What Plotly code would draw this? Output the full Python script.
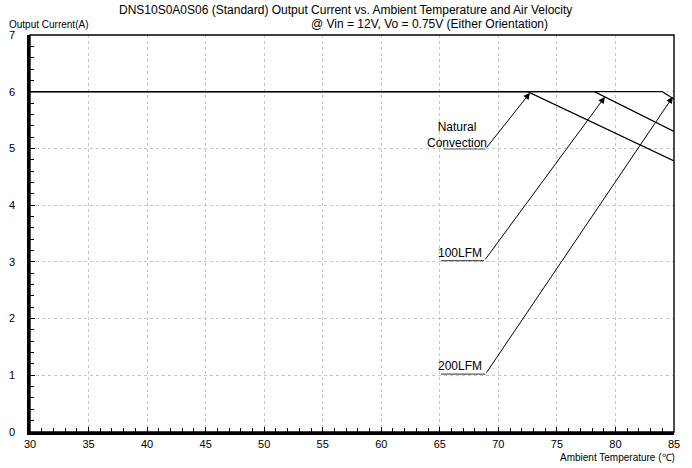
import plotly.graph_objects as go

# ambient temperature (C) vs output current (A)
natural_temp = [30, 72.5, 85]
natural_current = [6.0, 6.0, 4.78]
lfm100_temp = [30, 78.2, 85]
lfm100_current = [6.0, 6.0, 5.3]
lfm200_temp = [30, 84.0, 85]
lfm200_current = [6.0, 6.0, 5.87]

x_ticks = list(range(30, 90, 5))
y_ticks = list(range(0, 8))

font = dict(family="Liberation Sans, Arial, sans-serif", size=11, color="black")

fig = go.Figure()
for t, c, name in [(natural_temp, natural_current, "Natural Convection"),
                   (lfm100_temp, lfm100_current, "100LFM"),
                   (lfm200_temp, lfm200_current, "200LFM")]:
    fig.add_trace(go.Scatter(x=t, y=c, mode="lines", name=name,
                             line=dict(color="black", width=1.2), showlegend=False))

# label callouts: text, underline, arrow to the curve knee
callouts = [
    ("Natural<br>Convection", 65.3, 68.9, 4.99, 72.7, 5.98, 66.5, 5.24, "middle"),
    ("100LFM", 65.1, 68.8, 3.02, 79.1, 5.91, 66.7, 3.0, "bottom"),
    ("200LFM", 65.1, 68.9, 1.02, 84.9, 5.91, 66.75, 1.0, "bottom"),
]
for label, x0, x1, yu, xt, yt, xtext, ytext, anchor in callouts:
    fig.add_shape(type="line", x0=x0, x1=x1, y0=yu, y1=yu, xref="x", yref="y",
                  line=dict(color="#555555", width=1.2))
    fig.add_annotation(x=xt, y=yt, ax=x1, ay=yu, xref="x", yref="y", axref="x", ayref="y",
                       text="", showarrow=True, arrowhead=2, arrowsize=1.3,
                       arrowwidth=1, arrowcolor="black", standoff=0)
    fig.add_annotation(x=xtext, y=ytext, xref="x", yref="y", text=label,
                       showarrow=False, font=dict(family=font["family"], size=12, color="black"),
                       yanchor=anchor)

# frame on top/right
fig.add_shape(type="rect", x0=0, x1=1, y0=0, y1=1, xref="paper", yref="paper",
              line=dict(color="black", width=1.4))

fig.add_annotation(x=0.49, y=1, xref="paper", yref="paper", yshift=25, xanchor="center",
                   yanchor="middle",
                   text="DNS10S0A0S06 (Standard) Output Current vs. Ambient Temperature and Air Velocity",
                   showarrow=False, font=dict(family=font["family"], size=12, color="black"))
fig.add_annotation(x=0.62, y=1, xref="paper", yref="paper", yshift=11, xanchor="center",
                   yanchor="middle", text="@ Vin = 12V, Vo = 0.75V (Either Orientation)",
                   showarrow=False, font=dict(family=font["family"], size=12, color="black"))
fig.add_annotation(x=-0.036, y=1, xref="paper", yref="paper", yshift=11, xanchor="left",
                   yanchor="middle", text="Output Current(A)", showarrow=False,
                   font=dict(family=font["family"], size=10, color="black"))
fig.add_annotation(x=1.004, y=0, xref="paper", yref="paper", yshift=-25, xanchor="right",
                   yanchor="middle", text="Ambient Temperature (℃)", showarrow=False,
                   font=dict(family=font["family"], size=10, color="black"))

fig.update_xaxes(range=[30, 85], tickvals=x_ticks, showline=True, linecolor="black", linewidth=2.5,
                 ticks="inside", ticklen=5, tickcolor="black", showgrid=True, gridcolor="#c4c4c4",
                 griddash="dot", gridwidth=1, zeroline=False, tickfont=font, automargin=False,
                 minor=dict(dtick=1, ticks="inside", ticklen=4, tickcolor="black", showgrid=False))
fig.update_yaxes(range=[0, 7], tickvals=y_ticks, showline=True, linecolor="black", linewidth=2.5,
                 ticks="inside", ticklen=5, tickcolor="black", showgrid=True, gridcolor="#c4c4c4",
                 griddash="dot", gridwidth=1, zeroline=False, tickfont=font, automargin=False,
                 ticklabelstandoff=10,
                 minor=dict(dtick=0.2, ticks="inside", ticklen=4, tickcolor="black", showgrid=False))

fig.update_layout(width=692, height=468, margin=dict(l=30, r=18, t=35, b=36),
                  paper_bgcolor="white", plot_bgcolor="white", font=font)

# drop the default page margin so the figure sits at the window's corner
fig.write_html("out.html", config={"displayModeBar": False},
               post_script="document.body.style.margin='0';document.body.style.overflow='hidden';")
